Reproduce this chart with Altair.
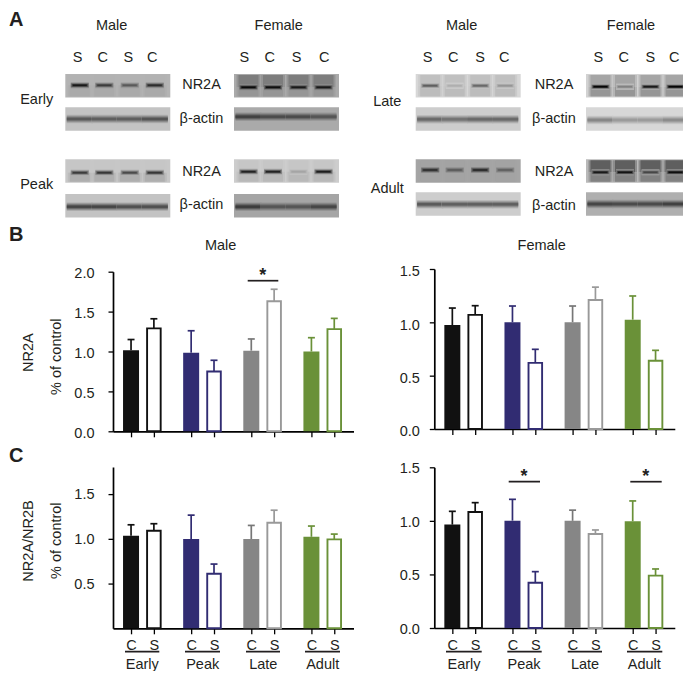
import altair as alt
import pandas as pd

FONT = "Liberation Sans"
INK = "#231f20"
W, H = 675, 663   # svg size; the page adds its 8px margin

# ---------- bar data ----------
STAGES = ["Early", "Peak", "Late", "Adult"]
TREATS = ["C", "S"]
B_MALE_MEAN = [1.015, 1.29, 0.985, 0.75, 1.01, 1.63, 1.00, 1.28]
B_MALE_TOP = [1.15, 1.41, 1.26, 0.89, 1.157, 1.78, 1.173, 1.415]
B_FEMALE_MEAN = [0.975, 1.07, 1.00, 0.62, 1.00, 1.21, 1.025, 0.64]
B_FEMALE_TOP = [1.134, 1.156, 1.153, 0.747, 1.153, 1.33, 1.247, 0.7375]
C_MALE_MEAN = [1.035, 1.09, 0.997, 0.61, 0.997, 1.18, 1.023, 0.994]
C_MALE_TOP = [1.157, 1.169, 1.265, 0.718, 1.15, 1.32, 1.143, 1.053]
C_FEMALE_MEAN = [0.965, 1.083, 1.002, 0.423, 1.00, 0.878, 0.996, 0.489]
C_FEMALE_TOP = [1.089, 1.17, 1.201, 0.526, 1.10, 0.915, 1.186, 0.551]

# ---------- blot data: background grey, lane grey above/below the band, band grey ----------
BLOT_LEVELS = {
    ("Early", "Male", "NR2A"): (180, 178, 170, [25, 60, 90, 45]),
    ("Early", "Female", "NR2A"): (170, 125, 150, [10, 15, 25, 25]),
    ("Early", "Male", "actin"): (195, 195, 195, [90, 95, 95, 85]),
    ("Early", "Female", "actin"): (170, 170, 170, [65, 75, 75, 85]),
    ("Peak", "Male", "NR2A"): (200, 198, 175, [60, 55, 75, 55]),
    ("Peak", "Female", "NR2A"): (205, 198, 185, [35, 35, 165, 30]),
    ("Peak", "Male", "actin"): (195, 195, 195, [70, 70, 80, 80]),
    ("Peak", "Female", "actin"): (165, 165, 165, [60, 85, 85, 70]),
    ("Late", "Male", "NR2A"): (215, 192, 188, [95, 175, 105, 150]),
    ("Late", "Female", "NR2A"): (210, 165, 150, [5, 130, 25, 5]),
    ("Late", "Male", "actin"): (205, 205, 205, [105, 115, 105, 105]),
    ("Late", "Female", "actin"): (215, 215, 215, [135, 155, 155, 140]),
    ("Adult", "Male", "NR2A"): (165, 163, 163, [45, 90, 40, 95]),
    ("Adult", "Female", "NR2A"): (185, 95, 130, [25, 20, 70, 15]),
    ("Adult", "Male", "actin"): (205, 205, 205, [90, 95, 95, 95]),
    ("Adult", "Female", "actin"): (175, 175, 175, [70, 75, 75, 65]),
}

# ---------- layout (page pixels) ----------
BLOT_LEFT = {("Early", "Male"): 65.3, ("Early", "Female"): 234, ("Peak", "Male"): 65.3, ("Peak", "Female"): 234,
             ("Late", "Male"): 415.7, ("Late", "Female"): 586, ("Adult", "Male"): 415.7, ("Adult", "Female"): 586}
BLOT_TOP = {("Early", "NR2A"): 74, ("Early", "actin"): 107.3, ("Peak", "NR2A"): 159.3, ("Peak", "actin"): 194,
            ("Late", "NR2A"): 74, ("Late", "actin"): 107.3, ("Adult", "NR2A"): 159.3, ("Adult", "actin"): 192.3}
BAND_Y = {("Early", "Male", "NR2A"): 85.3, ("Early", "Female", "NR2A"): 87.3, ("Early", "Male", "actin"): 119,
          ("Early", "Female", "actin"): 116.7, ("Peak", "Male", "NR2A"): 172.7, ("Peak", "Female", "NR2A"): 171.7,
          ("Peak", "Male", "actin"): 206.7, ("Peak", "Female", "actin"): 206.7, ("Late", "Male", "NR2A"): 85.7,
          ("Late", "Female", "NR2A"): 86.7, ("Late", "Male", "actin"): 119.3, ("Late", "Female", "actin"): 120,
          ("Adult", "Male", "NR2A"): 170, ("Adult", "Female", "NR2A"): 172.3, ("Adult", "Male", "actin"): 204.3,
          ("Adult", "Female", "actin"): 204}
LANE_OFFSET = [14.5, 39, 64.5, 89.5]
BLOT_W, BLOT_H = 105, 23.4


def grey(v):
    v = int(round(v))
    return f"#{v:02x}{v:02x}{v:02x}"


blot_rows = []


def add_rect(x0, x1, y0, y1, c):
    blot_rows.append({"x0": x0, "x1": x1, "y0": y0, "y1": y1, "c": grey(c)})


for (stage, sex, prot), (bg, above, below, bands) in BLOT_LEVELS.items():
    left, top = BLOT_LEFT[(stage, sex)], BLOT_TOP[(stage, prot)]
    yc = BAND_Y[(stage, sex, prot)]
    add_rect(left, left + BLOT_W, top, top + BLOT_H, bg)
    for off, b in zip(LANE_OFFSET, bands):
        if prot == "NR2A":
            cx, hw, inset = left + off, 9, 2
            sizes = (3.0, 2.1, 1.4, 0.8)
            for sw, mix in ((12, 0.5), (10, 1.0)):
                add_rect(cx - sw, cx + sw, top + 1, yc, bg + mix * (above - bg))
                add_rect(cx - sw, cx + sw, yc, top + BLOT_H - 1, bg + mix * (below - bg))
        else:
            cx, hw, inset = left + off, 13, 0
            cx = min(max(cx, left + hw), left + BLOT_W - hw)
            sizes = (4.2, 3.2, 2.2, 1.2)
        add_rect(cx - hw, cx + hw, yc - sizes[0], yc + sizes[0], bg + 0.2 * (b - bg))
        add_rect(cx - hw, cx + hw, yc - sizes[1], yc + sizes[1], bg + 0.45 * (b - bg))
        add_rect(cx - hw + inset / 2, cx + hw - inset / 2, yc - sizes[2], yc + sizes[2], bg + 0.72 * (b - bg))
        add_rect(cx - hw + inset, cx + hw - inset, yc - sizes[3], yc + sizes[3], b)
blots_df = pd.DataFrame(blot_rows)

canvas = alt.Chart(blots_df).mark_rect(stroke=None, clip=True).encode(
    x=alt.X("x0:Q", axis=None, scale=alt.Scale(domain=[8, 8 + W], range=[0, W], nice=False, zero=False)),
    x2="x1:Q",
    y=alt.Y("y0:Q", axis=None, scale=alt.Scale(domain=[8, 8 + H], range=[0, H], nice=False, zero=False)),
    y2="y1:Q",
    color=alt.Color("c:N", scale=None),
)

# ---------- bar panels ----------
FILL = {"Early": "#111111", "Peak": "#312c72", "Late": "#868686", "Adult": "#6a9138"}
STROKE_C = {"Early": "#111111", "Peak": "#312c72", "Late": "#777777", "Adult": "#6a9138"}
STROKE_S = {"Early": "#111111", "Peak": "#312c72", "Late": "#999999", "Adult": "#6a9138"}
DX = 0.19
BAR_HW = 0.133
OPEN_HW = 0.113
CAP_HW = 0.058
XVALS = [g + s * DX for g in range(4) for s in (-1, 1)]


def panel(mean, top, ax, ytop, y0, domain_top, yticks, labeloff, xlabels, labpad):
    rows = []
    for i, (m, t) in enumerate(zip(mean, top)):
        g, tr = i // 2, TREATS[i % 2]
        st = STAGES[g]
        xc = g + (-DX if tr == "C" else DX)
        hw = BAR_HW if tr == "C" else OPEN_HW
        col = STROKE_C[st] if tr == "C" else STROKE_S[st]
        rows.append({"stage": st, "treat": tr, "v": m, "top": t, "xc": xc, "x0": xc - hw, "x1": xc + hw,
                     "c0": xc - CAP_HW, "c1": xc + CAP_HW, "fill": FILL[st] if tr == "C" else "#ffffff",
                     "col": col, "sw": 0 if tr == "C" else 1.9, "zero": 0})
    df = pd.DataFrame(rows)
    xs = alt.Scale(domain=[-0.49, 3.51], range=[ax - 8, ax - 8 + 240.5], nice=False, zero=False)
    ys = alt.Scale(domain=[0, domain_top], range=[y0 - 8, ytop - 8], nice=False, zero=False)
    xax = alt.Axis(orient="bottom", offset=-(H - (y0 - 8)), values=XVALS, title=None, grid=False,
                   domainColor="black", domainWidth=1.7, tickColor="black", tickWidth=1.3, tickSize=5.5,
                   labels=xlabels, labelExpr="(datum.value - floor(datum.value)) < 0.5 ? 'S' : 'C'",
                   labelFont=FONT, labelFontSize=14.5, labelColor=INK, labelPadding=5, labelOverlap=False,
                   tickRound=False)
    yax = alt.Axis(orient="left", offset=-(ax - 8), values=yticks, format=".1f", title=None, grid=False,
                   domainColor="black", domainWidth=1.7, tickColor="black", tickWidth=1.3, tickSize=5,
                   labelFont=FONT, labelFontSize=14.5, labelColor=INK, labelPadding=labpad,
                   labelOffset=labeloff, labelOverlap=False, tickRound=False)
    X = lambda f: alt.X(f, scale=xs, axis=xax)
    Y = lambda f: alt.Y(f, scale=ys, axis=yax)
    stems = alt.Chart(df).mark_rule(strokeWidth=1.7).encode(
        x=X("xc:Q"), y=Y("v:Q"), y2="top:Q", color=alt.Color("col:N", scale=None))
    caps = alt.Chart(df).mark_rule(strokeWidth=1.7).encode(
        x=X("c0:Q"), x2="c1:Q", y=Y("top:Q"), color=alt.Color("col:N", scale=None))
    bars = alt.Chart(df).mark_rect().encode(
        x=X("x0:Q"), x2="x1:Q", y=Y("zero:Q"), y2="v:Q",
        fill=alt.Fill("fill:N", scale=None), stroke=alt.Stroke("col:N", scale=None),
        strokeWidth=alt.StrokeWidth("sw:Q", scale=None))
    return alt.layer(stems, caps, bars)


p_bm = panel(B_MALE_MEAN, B_MALE_TOP, 113, 271.7, 431.3, 2.0, [0, 0.5, 1, 1.5, 2], 2.2, False, 14)
p_bf = panel(B_FEMALE_MEAN, B_FEMALE_TOP, 434.3, 269, 429, 1.5, [0, 0.5, 1, 1.5], 2.8, False, 10)
p_cm = panel(C_MALE_MEAN, C_MALE_TOP, 113, 467, 628.3, 1.803, [0.5, 1, 1.5], 0.6, True, 14)
p_cf = panel(C_FEMALE_MEAN, C_FEMALE_TOP, 434.3, 467.3, 628, 1.5, [0, 0.5, 1, 1.5], 1.2, True, 10)


# ---------- annotations ----------
def T(text, x, y, size=14.5, weight="normal", angle=0, color=INK, align="center"):
    return alt.Chart(pd.DataFrame({"t": [text]})).mark_text(
        font=FONT, fontSize=size, fontWeight=weight, angle=angle, color=color, align=align, baseline="middle",
    ).encode(x=alt.value(x - 8), y=alt.value(y - 8), text="t:N")


def R(x0, x1, y, w=1.7, color=INK):
    return alt.Chart(pd.DataFrame({"t": [0]})).mark_rule(strokeWidth=w, color=color).encode(
        x=alt.value(x0 - 8), x2=alt.value(x1 - 8), y=alt.value(y - 8))


notes = [
    T("A", 9, 19.5, 20, "bold", align="left"),
    T("B", 9, 235, 20, "bold", align="left"),
    T("C", 9, 456, 20, "bold", align="left"),
]
for txt, x in [("Male", 111.7), ("Female", 278.7), ("Male", 461.7), ("Female", 631)]:
    notes.append(T(txt, x, 26))
for xs_ in ([77.7, 102.7, 128.3, 152.3], [244.3, 269.7, 296.7, 324.3], [427.7, 453.3, 480, 504.3], [598.3, 623.7, 650.3, 674.3]):
    for lab, x in zip(["S", "C", "S", "C"], xs_):
        notes.append(T(lab, x, 58))
for x, ys_ in [(201.5, [85.3, 119, 172.3, 205.3]), (554, [85.3, 119, 172.3, 206])]:
    for lab, y in zip(["NR2A", "β-actin", "NR2A", "β-actin"], ys_):
        notes.append(T(lab, x, y))
for lab, x, y in [("Early", 36.7, 100), ("Peak", 36.7, 185), ("Late", 387.3, 101.7), ("Adult", 387.3, 188.7)]:
    notes.append(T(lab, x, y))
notes += [
    T("Male", 220.7, 246), T("Female", 541.7, 246),
    T("NR2A", 29.3, 352.7, angle=270), T("% of control", 56.7, 356.7, angle=270),
    T("NR2A/NR2B", 29.3, 541, angle=270), T("% of control", 56.7, 540.7, angle=270),
    R(247.7, 278.3, 280.7), T("*", 262.7, 276, 18, "bold"),
    R(508.7, 540, 481.7), T("*", 524, 477, 18, "bold"),
    R(630.3, 661.7, 481.7), T("*", 645.7, 477, 18, "bold"),
]
for lab, xm, x0, x1 in zip(STAGES, [142.3, 202.7, 263.3, 322.7], [125, 185, 246, 305], [159.3, 220, 280, 340]):
    notes += [T(lab, xm, 664.5), R(x0, x1, 651.7)]
for lab, xm, x0, x1 in zip(STAGES, [464, 524, 585, 644.3], [446, 507.3, 567.7, 627], [481.7, 541.7, 602, 662.3]):
    notes += [T(lab, xm, 664.5), R(x0, x1, 651.7)]

chart = alt.layer(canvas, p_bm, p_bf, p_cm, p_cf, *notes).resolve_scale(x="independent", y="independent").properties(
    width=W, height=H, padding=0, background="white",
    autosize=alt.AutoSizeParams(type="none", contains="padding"),
).configure_view(stroke=None)

chart.save("out.html", embed_options={"renderer": "svg", "actions": False})
